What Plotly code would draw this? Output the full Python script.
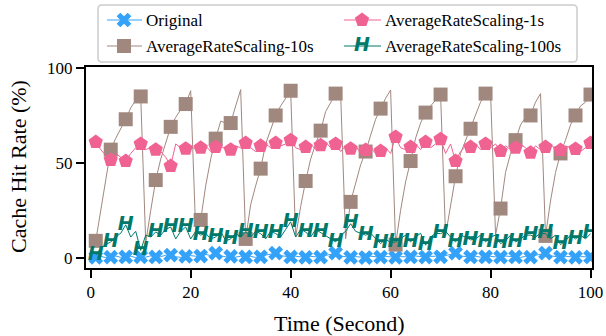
import plotly.graph_objects as go

# ---- data: cache hit rate (%) sampled every second ----
seconds = list(range(1, 101))

original = [
    0.3, 0.8, 0.2, 0.4, 1.0, 0.3, 0.5, 0.9, 0.2, 0.6,
    0.4, 1.1, 0.5, 0.7, 1.4, 1.5, 0.6, 0.3, 0.8, 1.2,
    0.9, 1.0, 1.8, 1.3, 2.5, 1.1, 0.6, 0.8, 0.4, 0.9,
    0.5, 0.8, 0.3, 0.6, 1.5, 1.9, 2.5, 1.2, 0.7, 0.5,
    0.9, 0.4, 0.3, 0.8, 0.6, 0.4, 1.3, 1.8, 2.5, 1.0,
    0.6, 0.3, 0.7, 0.5, 0.2, 0.9, 0.6, 0.4, 0.8, 0.5,
    0.3, 0.7, 0.6, 0.5, 1.0, 0.7, 0.4, 0.8, 0.9, 0.6,
    1.2, 1.8, 2.5, 1.0, 0.6, 0.5, 0.9, 0.4, 0.5, 0.8,
    0.6, 0.4, 1.0, 0.7, 0.5, 0.3, 0.8, 0.4, 1.4, 1.9,
    2.5, 1.1, 0.6, 0.4, 0.9, 0.5, 0.3, 0.7, 0.6, 0.5,
]

ars_1s = [
    61, 57, 54, 51.6, 55, 53, 51, 55, 58, 60,
    57, 58, 57, 56, 53, 48.4, 60, 58, 57.5, 59,
    57, 58, 59, 56, 58.4, 59, 57, 57, 59, 58,
    60.5, 58, 56, 59, 60, 58, 60.5, 59, 60, 62,
    58, 57, 58.4, 60, 57, 59.3, 61, 58, 60, 56,
    59, 57.5, 59, 55, 56.8, 58, 55, 56.3, 58, 55,
    63.7, 58, 57, 58.4, 60, 57, 61, 58, 60, 62.5,
    55, 60, 51, 56, 59, 58.4, 60, 57, 60, 58,
    60, 56.3, 59, 57, 58, 60, 58, 55.4, 59, 57,
    58.4, 60, 57, 56.8, 59, 58, 57.4, 56, 58, 60.5,
]

ars_10s = [
    9, 25, 42, 57, 63, 68, 73, 79, 83, 85,
    8, 25, 41, 52, 61, 69, 74, 78, 81, 88,
    14, 20, 38, 52, 62.8, 72, 71, 71, 80, 88.6,
    10, 28, 38, 47, 60, 68, 75, 80, 84, 88,
    11, 27, 40.5, 52, 60, 67, 77, 82, 86.5, 87,
    10, 29.5, 40, 49, 56, 65, 73, 78.6, 84, 88.4,
    7, 25, 40, 51, 63, 71, 76.5, 80, 83, 86,
    12, 28, 43, 55, 62, 68, 76, 82, 86.5, 87,
    12, 26, 45, 55, 62, 70, 74, 75, 82, 86.5,
    11.6, 30, 45, 55, 62, 70, 75, 80, 82, 86,
]

ars_100s = [
    1.5, 5, 7, 8.4, 11, 13, 17.4, 11, 14, 4,
    12, 11, 13.7, 12, 15, 16.3, 10, 14, 16.3, 10,
    14, 12, 13, 10, 11, 14, 9, 10, 13, 11,
    13.7, 11, 14, 12.8, 10, 14, 12.8, 11, 15, 19,
    11, 15, 13.7, 11, 15, 13.3, 12, 10, 8.4, 12,
    14, 18, 14, 13, 12, 13, 10, 7.5, 10, 8,
    8.4, 10, 12, 8.4, 11, 13, 6.7, 11, 13, 12.8,
    14, 11, 8.4, 12, 11, 9.5, 10, 12, 8.4, 11,
    12, 7.5, 9, 12, 8.4, 10, 12, 12, 11, 13,
    12.8, 10, 12, 7, 9, 12, 10, 12, 10, 12.8,
]

x_ticks = [0, 20, 40, 60, 80, 100]
y_ticks = [0, 50, 100]
MARK_EVERY = 3

SERIF = "Liberation Serif, Times New Roman, serif"
BLUE = "#35a2fa"
PINK = "#f06292"
BROWN = "#a1887f"
GREEN = "#00796b"

# (name, values, colour, marker symbol or None for the text glyph, marker size)
series = [
    ("Original", original, BLUE, "x", 13),
    ("AverageRateScaling-10s", ars_10s, BROWN, "square", 14),
    ("AverageRateScaling-1s", ars_1s, PINK, "pentagon", 15),
    ("AverageRateScaling-100s", ars_100s, GREEN, None, 19),
]

H_GLYPH = "<b><i>H</i></b>"
H_FONT = "DejaVu Sans"

fig = go.Figure()

for name, vals, color, symbol, size in series:
    fig.add_trace(go.Scatter(
        x=seconds, y=vals, mode="lines",
        line=dict(color=color, width=1),
        showlegend=False, hoverinfo="skip",
    ))
    mx = seconds[::MARK_EVERY]
    my = vals[::MARK_EVERY]
    if symbol is None:
        fig.add_trace(go.Scatter(
            x=mx, y=my, mode="text", text=[H_GLYPH] * len(mx),
            textposition="middle center",
            textfont=dict(family=H_FONT, size=size, color=color),
            showlegend=False, hoverinfo="skip",
        ))
    else:
        fig.add_trace(go.Scatter(
            x=mx, y=my, mode="markers",
            marker=dict(symbol=symbol, size=size, color=color, line=dict(width=0)),
            showlegend=False, hoverinfo="skip",
        ))

# ---- legend, drawn on a pixel-space overlay axis covering the whole figure ----
W, H = 606, 336
legend_rows = [20, 46]
legend_cols = [(107, 142, 124, 144), (344, 381, 362, 383)]
legend_slots = [(0, 0), (0, 1), (1, 0), (1, 1)]  # (col, row) in series order

for (name, vals, color, symbol, size), (ci, ri) in zip(series, legend_slots):
    x0, x1, xm, xt = legend_cols[ci]
    yy = legend_rows[ri]
    fig.add_trace(go.Scatter(
        x=[x0, x1], y=[yy, yy], mode="lines", line=dict(color=color, width=1),
        xaxis="x2", yaxis="y2", showlegend=False, hoverinfo="skip",
    ))
    if symbol is None:
        fig.add_trace(go.Scatter(
            x=[xm], y=[yy], mode="text", text=[H_GLYPH], textposition="middle center",
            textfont=dict(family=H_FONT, size=size, color=color),
            xaxis="x2", yaxis="y2", showlegend=False, hoverinfo="skip",
        ))
    else:
        fig.add_trace(go.Scatter(
            x=[xm], y=[yy], mode="markers",
            marker=dict(symbol=symbol, size=size, color=color, line=dict(width=0)),
            xaxis="x2", yaxis="y2", showlegend=False, hoverinfo="skip",
        ))
    fig.add_annotation(
        x=xt, y=yy, xref="x2", yref="y2", text=name, showarrow=False,
        xanchor="left", yanchor="middle",
        font=dict(family=SERIF, size=17, color="black"),
    )

# rounded legend frame
bx0, by0, bx1, by1, r = 98, 5, 577, 62, 4
frame = (f"M {bx0 + r},{by0} L {bx1 - r},{by0} Q {bx1},{by0} {bx1},{by0 + r} "
         f"L {bx1},{by1 - r} Q {bx1},{by1} {bx1 - r},{by1} L {bx0 + r},{by1} "
         f"Q {bx0},{by1} {bx0},{by1 - r} L {bx0},{by0 + r} Q {bx0},{by0} {bx0 + r},{by0} Z")
fig.add_shape(type="path", path=frame, xref="x2", yref="y2",
              line=dict(color="#cccccc", width=1.5), fillcolor="white", layer="below")

# axis titles
fig.add_annotation(x=339, y=323, xref="x2", yref="y2", text="Time (Second)",
                   showarrow=False, xanchor="center", yanchor="middle",
                   font=dict(family=SERIF, size=22, color="black"))
fig.add_annotation(x=18, y=167, xref="x2", yref="y2", text="Cache Hit Rate (%)",
                   showarrow=False, xanchor="center", yanchor="middle", textangle=-90,
                   font=dict(family=SERIF, size=22, color="black"))

axis_common = dict(
    showline=True, linecolor="black", linewidth=2, mirror=True,
    ticks="outside", ticklen=8, tickwidth=2, tickcolor="black",
    showgrid=False, zeroline=False, automargin=False,
    tickfont=dict(family=SERIF, size=17, color="black"),
)

fig.update_layout(
    width=W, height=H,
    margin=dict(l=0, r=0, t=0, b=0, autoexpand=False),
    paper_bgcolor="white", plot_bgcolor="rgba(0,0,0,0)",
    showlegend=False,
    xaxis=dict(domain=[86 / W, 592 / W], range=[-0.95, 100.3],
               tickvals=x_ticks, **axis_common),
    yaxis=dict(domain=[1 - 268 / H, 1 - 67 / H], range=[-5.3, 100.5],
               tickvals=y_ticks, **axis_common),
    xaxis2=dict(domain=[0, 1], range=[0, W], visible=False, anchor="y2",
                fixedrange=True, automargin=False),
    yaxis2=dict(domain=[0, 1], range=[H, 0], visible=False, anchor="x2",
                fixedrange=True, automargin=False),
)

fig.write_html("out.html")
